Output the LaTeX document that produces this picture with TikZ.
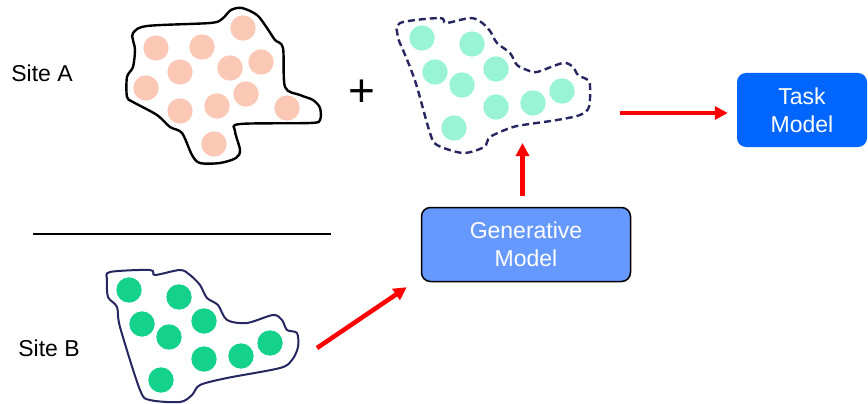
\documentclass[tikz,border=0pt]{standalone}
\usepackage{fontspec}
\setmainfont{Liberation Sans}
\usetikzlibrary{arrows.meta}
\definecolor{peach}{RGB}{252,200,182}
\definecolor{mint}{RGB}{152,244,212}
\definecolor{jade}{RGB}{20,210,140}
\definecolor{navy}{RGB}{38,38,96}
\definecolor{genblue}{RGB}{102,153,255}
\definecolor{taskblue}{RGB}{0,102,255}

\begin{document}
\begin{tikzpicture}[x=1pt,y=-1pt,
  txt/.style={font=\fontsize{23}{28}\selectfont,align=center},
  box/.style={txt,text=white,rounded corners=9pt,inner sep=0pt},
  redarrow/.style={red,line width=4.5pt,-{Triangle[length=13pt,width=13pt]}},
  dot/.style={radius=12.7}]
\useasboundingbox (0,0) rectangle (868,404);
%site A
\draw[line width=2.4pt,smooth cycle,tension=0.5] plot coordinates {
  (133,33) (147,26) (210,23) (222,19) (231,10) (242,8) (257,15) (267,28)
  (275,40) (283,48) (285,87) (300,95) (313,100) (320,108) (320,120) (310,123)
  (240,124) (235,131) (240,150) (236,158) (220,163) (200,163) (192,155) (182,133)
  (170,127) (157,115) (133,102) (127,97) (127,77) (133,67) (135,50) (133,40)};
\fill[peach] (156,48) circle[dot];
\fill[peach] (202,47) circle[dot];
\fill[peach] (243,28) circle[dot];
\fill[peach] (180,72) circle[dot];
\fill[peach] (230,68) circle[dot];
\fill[peach] (261,62) circle[dot];
\fill[peach] (146,88) circle[dot];
\fill[peach] (246,94) circle[dot];
\fill[peach] (180,111) circle[dot];
\fill[peach] (217,106) circle[dot];
\fill[peach] (287,108) circle[dot];
\fill[peach] (214,144) circle[dot];
\node[txt] (siteA) at (42,73) {Site A};
\node[font=\fontsize{46}{46}\selectfont] (plus) at (362,93) {+};
%synthetic
\draw[navy,line width=2.4pt,dash pattern=on 7pt off 4pt,smooth cycle,tension=0.5] plot coordinates {
  (400,23) (440,18) (446,23) (470,18) (481,22) (490,31) (497,43) (510,53)
  (517,65) (527,70) (537,72) (563,63) (573,67) (578,75) (588,80) (590,86)
  (589,107) (580,115) (557,120) (523,125) (510,128) (490,137) (484,147) (463,153)
  (437,145) (430,133) (417,87) (410,67) (403,50) (398,37)};
\fill[mint] (422,38) circle[dot];
\fill[mint] (472,44) circle[dot];
\fill[mint] (435,72) circle[dot];
\fill[mint] (496,69) circle[dot];
\fill[mint] (462,85) circle[dot];
\fill[mint] (496,107) circle[dot];
\fill[mint] (533,103) circle[dot];
\fill[mint] (562,91) circle[dot];
\fill[mint] (454,128) circle[dot];
%divider
\draw[line width=2pt] (33,234) -- (331,234);
%site B
\draw[navy,line width=2pt,smooth cycle,tension=0.5] plot coordinates {
  (110,272) (150,270) (155,275) (180,270) (190,275) (200,285) (207,298) (218,305)
  (227,320) (247,323) (273,315) (282,320) (287,330) (297,333) (298,347) (292,360)
  (280,368) (227,378) (200,385) (192,395) (180,402) (150,400) (140,390) (120,327)
  (117,307) (108,297) (107,280)};
\fill[jade] (129,290) circle[dot];
\fill[jade] (179,297) circle[dot];
\fill[jade] (142,324) circle[dot];
\fill[jade] (204,321) circle[dot];
\fill[jade] (169,337) circle[dot];
\fill[jade] (204,359) circle[dot];
\fill[jade] (241,356) circle[dot];
\fill[jade] (270,343) circle[dot];
\fill[jade] (161,380) circle[dot];
\node[txt] (siteB) at (49,348) {Site B};
%models
\node[box,draw=black,line width=1.5pt,fill=genblue,minimum width=209pt,minimum height=74pt] (gen) at (526,244.5) {Generative\\Model};
\node[box,fill=taskblue,minimum width=130pt,minimum height=74pt] (task) at (802,110) {Task\\Model};
\coordinate (realB) at (317,348);
\coordinate (synthS) at (522.5,143);
\coordinate (synthE) at (620,113);
\draw[redarrow] (realB) -- ([shift={(-14,5)}]gen.south west);
\draw[redarrow] ([xshift=-3.5pt,yshift=11pt]gen.north) -- (synthS);
\draw[redarrow] (synthE) -- ([shift={(-9,3)}]task.west);
\end{tikzpicture}
\end{document}
